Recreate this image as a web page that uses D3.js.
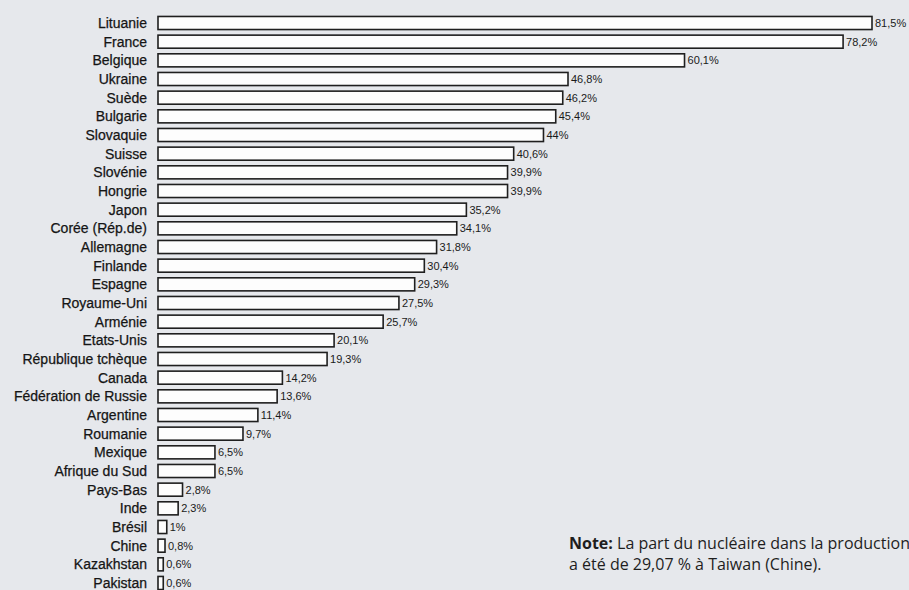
<!DOCTYPE html>
<html>
<head>
<meta charset="utf-8">
<script src="https://cdn.jsdelivr.net/npm/d3@7"></script>
<style>
  html, body { margin: 0; padding: 0; background: #e6e8ec; }
  svg { display: block; }
</style>
</head>
<body>
<svg id="chart" width="909" height="590"></svg>
<script>
const countries = ["Lituanie","France","Belgique","Ukraine","Suède","Bulgarie","Slovaquie","Suisse","Slovénie","Hongrie","Japon","Corée (Rép.de)","Allemagne","Finlande","Espagne","Royaume-Uni","Arménie","Etats-Unis","République tchèque","Canada","Fédération de Russie","Argentine","Roumanie","Mexique","Afrique du Sud","Pays-Bas","Inde","Brésil","Chine","Kazakhstan","Pakistan"];
const shares = [81.5,78.2,60.1,46.8,46.2,45.4,44,40.6,39.9,39.9,35.2,34.1,31.8,30.4,29.3,27.5,25.7,20.1,19.3,14.2,13.6,11.4,9.7,6.5,6.5,2.8,2.3,1,0.8,0.6,0.6];
const shareLabels = ["81,5%","78,2%","60,1%","46,8%","46,2%","45,4%","44%","40,6%","39,9%","39,9%","35,2%","34,1%","31,8%","30,4%","29,3%","27,5%","25,7%","20,1%","19,3%","14,2%","13,6%","11,4%","9,7%","6,5%","6,5%","2,8%","2,3%","1%","0,8%","0,6%","0,6%"];
const noteBold = "Note:";
const noteLines = [" La part du nucléaire dans la production", "a été de 29,07 % à Taiwan (Chine)."];

const svg = d3.select("#chart");
svg.append("rect").attr("width", 909).attr("height", 590).attr("fill", "#e6e8ec");

const x = d3.scaleLinear().domain([0, 81.5]).range([158, 872]);
const y = d3.scaleBand().domain(countries).range([13.67, 592.33]).paddingInner(0.3).paddingOuter(0.15);

const rows = svg.append("g").selectAll("g").data(countries).join("g");

rows.append("rect")
  .attr("x", x(0))
  .attr("y", d => y(d))
  .attr("width", (d, i) => x(shares[i]) - x(0))
  .attr("height", y.bandwidth())
  .attr("fill", "#fdfdfd")
  .attr("stroke", "#1f1f1f")
  .attr("stroke-width", 1.6);

rows.append("text")
  .attr("x", x(0) - 11)
  .attr("y", d => y(d) + y.bandwidth() / 2)
  .attr("dy", "0.36em")
  .attr("text-anchor", "end")
  .attr("font-family", "Liberation Sans, Arial, sans-serif")
  .attr("font-size", 14)
  .attr("fill", "#151515")
  .attr("stroke", "#151515")
  .attr("stroke-width", 0.25)
  .text(d => d);

rows.append("text")
  .attr("x", (d, i) => x(shares[i]) + 3)
  .attr("y", d => y(d) + y.bandwidth() / 2)
  .attr("dy", "0.36em")
  .attr("font-family", "Liberation Sans, Arial, sans-serif")
  .attr("font-size", 11)
  .attr("fill", "#1a1a1a")
  .text((d, i) => shareLabels[i]);

const note = svg.append("text")
  .attr("x", 569)
  .attr("y", 549)
  .attr("font-family", "'Open Sans', Lato, sans-serif")
  .attr("font-size", 16)
  .attr("fill", "#1e1e1e");
note.append("tspan").attr("font-weight", "bold").text(noteBold);
note.append("tspan").text(noteLines[0]);
svg.append("text")
  .attr("x", 569)
  .attr("y", 570)
  .attr("font-family", "'Open Sans', Lato, sans-serif")
  .attr("font-size", 16)
  .attr("fill", "#1e1e1e")
  .text(noteLines[1]);
</script>
</body>
</html>
